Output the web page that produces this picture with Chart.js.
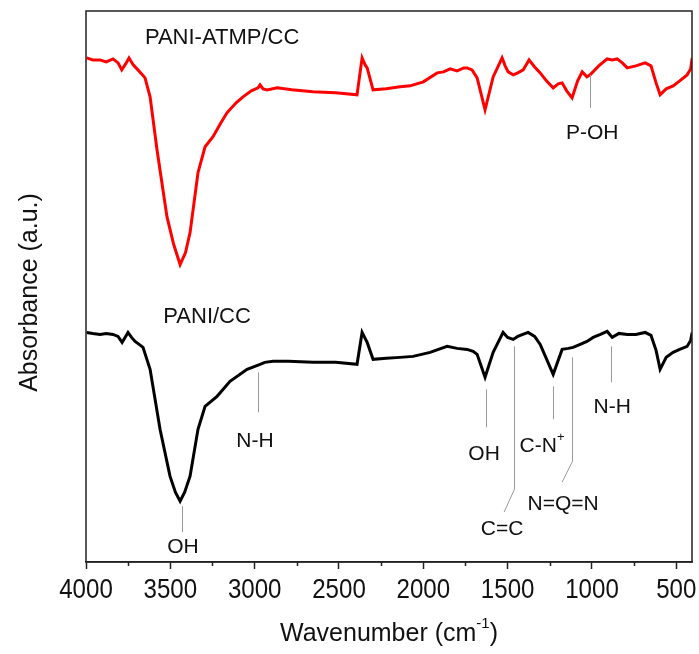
<!DOCTYPE html>
<html>
<head>
<meta charset="utf-8">
<script src="https://cdn.jsdelivr.net/npm/chart.js@4.4.1/dist/chart.umd.min.js"></script>
<style>
  html, body { margin: 0; padding: 0; background: #fff; }
  #wrap { width: 699px; height: 654px; }
</style>
</head>
<body>
<div id="wrap"><canvas id="ftir" width="699" height="654"></canvas></div>
<script>
// wavenumber (cm-1) and absorbance (a.u.)
const atmpWave = [3996, 3960, 3917, 3880, 3840, 3810, 3788, 3765, 3745, 3720, 3692, 3670, 3650, 3620, 3579, 3520, 3480, 3442, 3410, 3383, 3336, 3294, 3247, 3200, 3164, 3110, 3069, 3020, 2980, 2968, 2950, 2926, 2867, 2780, 2654, 2520, 2393, 2363, 2345, 2333, 2298, 2220, 2138, 2078, 2000, 1918, 1880, 1841, 1800, 1760, 1740, 1711, 1681, 1634, 1586, 1533, 1515, 1497, 1467, 1440, 1408, 1373, 1340, 1307, 1270, 1230, 1200, 1177, 1150, 1118, 1085, 1058, 1030, 1011, 960, 910, 880, 851, 820, 791, 740, 685, 650, 620, 596, 560, 519, 480, 436, 415, 406];
const atmpAbs = [505, 503, 503, 501, 504, 500, 493, 499, 505, 498, 493, 489, 485, 466, 413, 346, 318, 298, 310, 330, 390, 416, 426, 440, 450, 460, 466, 472, 475, 478, 474, 473, 475, 473, 471, 470, 468, 505, 498, 495, 473, 474, 476, 477, 481, 490, 491, 494, 492, 495, 495, 493, 485, 453, 486, 505, 497, 491, 488, 490, 493, 503, 496, 490, 482, 475, 479, 480, 472, 465, 482, 491, 486, 488, 497, 504, 503, 504, 500, 495, 497, 500, 497, 480, 468, 474, 477, 482, 488, 494, 505];

const paniWave = [3996, 3960, 3917, 3880, 3840, 3810, 3786, 3765, 3751, 3730, 3709, 3685, 3662, 3620, 3561, 3502, 3470, 3442, 3415, 3383, 3336, 3294, 3223, 3146, 3045, 2968, 2940, 2891, 2800, 2654, 2520, 2393, 2363, 2345, 2333, 2298, 2220, 2138, 2061, 1960, 1859, 1800, 1740, 1705, 1681, 1634, 1586, 1527, 1500, 1467, 1440, 1379, 1340, 1307, 1230, 1177, 1140, 1112, 1070, 1030, 993, 950, 910, 880, 840, 791, 740, 685, 650, 620, 596, 560, 519, 480, 436, 415, 406];
const paniAbs = [230, 229, 228, 229, 228, 226, 220, 226, 230, 225, 221, 218, 215, 193, 133, 86, 70, 61, 70, 86, 133, 156, 166, 181, 193, 198, 200, 201, 201, 200, 200, 198, 230, 224, 220, 203, 204, 205, 206, 210, 216, 214, 213, 211, 208, 185, 210, 230, 225, 223, 226, 230, 226, 218, 188, 213, 214, 215, 218, 221, 225, 228, 231, 225, 229, 228, 228, 230, 227, 212, 193, 205, 210, 213, 216, 222, 230];

const xTicks = [4000, 3500, 3000, 2500, 2000, 1500, 1000, 500];
const minorTicks = [3750, 3250, 2750, 2250, 1750, 1250, 750];

// peak assignments: label, label position, leader line (top, bottom), optional kink end
const peakNames = ['P-OH', 'OH', 'N-H', 'OH', 'C=C', 'C-N', 'N=Q=N', 'N-H'];
const peakSup = ['', '', '', '', '', '+', '', ''];
const peakLabelWave = [999, 3425, 2998, 1640, 1533, 1296, 1171, 880];
const peakLabelAbs = [430, 15, 121, 108, 33, 116, 58, 155];
const peakLineWave = [1011, 3431, 2980, 1628, 1462, 1230, 1118, 886];
const peakLineTop = [488, 56, 190, 173, 216, 176, 205, 216];
const peakLineBottom = [455, 30, 150, 135, 73, 143, 101, 180];
const peakKinkWave = [null, null, null, null, 1521, null, 1177, null];
const peakKinkAbs = [null, null, null, null, 50, null, 80, null];

const seriesNames = ['PANI-ATMP/CC', 'PANI/CC'];
const seriesNameWave = [3193, 3282];
const seriesNameAbs = [525, 246];

const toPts = (xs, ys) => xs.map((x, i) => ({ x: x, y: ys[i] }));
const FONT = '"Liberation Sans", Arial, sans-serif';

const decor = {
  id: 'decor',
  afterDraw(chart) {
    const ctx = chart.ctx;
    const xs = chart.scales.x, ys = chart.scales.y;
    const a = chart.chartArea;
    ctx.save();

    // frame
    ctx.strokeStyle = '#222';
    ctx.lineWidth = 1.5;
    ctx.strokeRect(a.left, a.top, a.right - a.left, a.bottom - a.top);

    // minor ticks
    minorTicks.forEach(v => {
      const px = Math.round(xs.getPixelForValue(v)) + 0.5;
      ctx.beginPath();
      ctx.moveTo(px, a.bottom);
      ctx.lineTo(px, a.bottom + 4);
      ctx.stroke();
    });

    // tick labels, slightly condensed like the original
    ctx.fillStyle = '#111';
    ctx.textAlign = 'center';
    ctx.textBaseline = 'middle';
    ctx.font = '28px ' + FONT;
    xs.ticks.forEach(t => {
      const px = xs.getPixelForValue(t.value);
      ctx.save();
      ctx.translate(px, 590);
      ctx.scale(0.86, 1);
      ctx.fillText(String(t.value), 0, 0);
      ctx.restore();
    });

    // leader lines
    ctx.strokeStyle = '#999';
    ctx.lineWidth = 1;
    peakNames.forEach((n, i) => {
      const px = Math.round(xs.getPixelForValue(peakLineWave[i])) + 0.5;
      ctx.beginPath();
      ctx.moveTo(px, ys.getPixelForValue(peakLineTop[i]));
      ctx.lineTo(px, ys.getPixelForValue(peakLineBottom[i]));
      if (peakKinkWave[i] !== null) {
        ctx.lineTo(xs.getPixelForValue(peakKinkWave[i]), ys.getPixelForValue(peakKinkAbs[i]));
      }
      ctx.stroke();
    });

    // peak labels
    peakNames.forEach((n, i) => {
      ctx.font = '21px ' + FONT;
      const w = ctx.measureText(n).width;
      ctx.font = '13px ' + FONT;
      const ws = peakSup[i] ? ctx.measureText(peakSup[i]).width : 0;
      const cx = xs.getPixelForValue(peakLabelWave[i]);
      const cy = ys.getPixelForValue(peakLabelAbs[i]);
      const x0 = cx - (w + ws) / 2;
      ctx.font = '21px ' + FONT;
      ctx.textAlign = 'left';
      ctx.fillText(n, x0, cy);
      if (peakSup[i]) {
        ctx.font = '13px ' + FONT;
        ctx.fillText(peakSup[i], x0 + w, cy - 9);
      }
    });

    // series names
    ctx.font = '22px ' + FONT;
    ctx.textAlign = 'center';
    seriesNames.forEach((n, i) => {
      ctx.fillText(n, xs.getPixelForValue(seriesNameWave[i]), ys.getPixelForValue(seriesNameAbs[i]));
    });

    // x axis title with superscript
    ctx.font = '25px ' + FONT;
    const t1 = 'Wavenumber (cm', t2 = '-1', t3 = ')';
    const w1 = ctx.measureText(t1).width, w3 = ctx.measureText(t3).width;
    ctx.font = '15px ' + FONT;
    const w2 = ctx.measureText(t2).width;
    let tx = (a.left + a.right) / 2 - (w1 + w2 + w3) / 2;
    const ty = 634;
    ctx.textAlign = 'left';
    ctx.font = '25px ' + FONT;
    ctx.fillText(t1, tx, ty);
    ctx.font = '15px ' + FONT;
    ctx.fillText(t2, tx + w1, ty - 10);
    ctx.font = '25px ' + FONT;
    ctx.fillText(t3, tx + w1 + w2, ty);

    // y axis title
    ctx.translate(30, (a.top + a.bottom) / 2 + 6);
    ctx.rotate(-Math.PI / 2);
    ctx.textAlign = 'center';
    ctx.fillText('Absorbance (a.u.)', 0, 0);
    ctx.restore();
  }
};

const config = {
  type: 'line',
  data: {
    datasets: [{
      label: seriesNames[0],
      data: toPts(atmpWave, atmpAbs),
      borderColor: '#ff0000',
      borderWidth: 3,
      pointRadius: 0,
      tension: 0
    }, {
      label: seriesNames[1],
      data: toPts(paniWave, paniAbs),
      borderColor: '#000000',
      borderWidth: 3,
      pointRadius: 0,
      tension: 0
    }]
  },
  options: {
    responsive: false,
    animation: false,
    layout: { padding: { top: 11, right: 7, left: 0, bottom: 0 } },
    plugins: { legend: { display: false }, tooltip: { enabled: false } },
    scales: {
      x: {
        type: 'linear',
        reverse: true,
        min: 407,
        max: 4000,
        afterBuildTicks: s => { s.ticks = xTicks.map(v => ({ value: v })); },
        afterFit: s => { s.height = 92; s.paddingLeft = 0; s.paddingRight = 0; },
        ticks: {
          padding: 4,
          maxRotation: 0,
          autoSkip: false,
          font: { family: FONT, size: 27 },
          // labels are drawn condensed by the decor plugin
          callback: () => ''
        },
        grid: { drawOnChartArea: false, tickLength: 7, tickColor: '#222', tickWidth: 1.5 },
        border: { display: true, color: '#222', width: 1.5 }
      },
      y: {
        min: 0,
        max: 552,
        afterFit: s => { s.width = 86; },
        ticks: { display: false },
        grid: { display: false },
        border: { display: false }
      }
    }
  },
  plugins: [decor]
};

const ftirChart = new Chart(document.getElementById('ftir'), config);
</script>
</body>
</html>
